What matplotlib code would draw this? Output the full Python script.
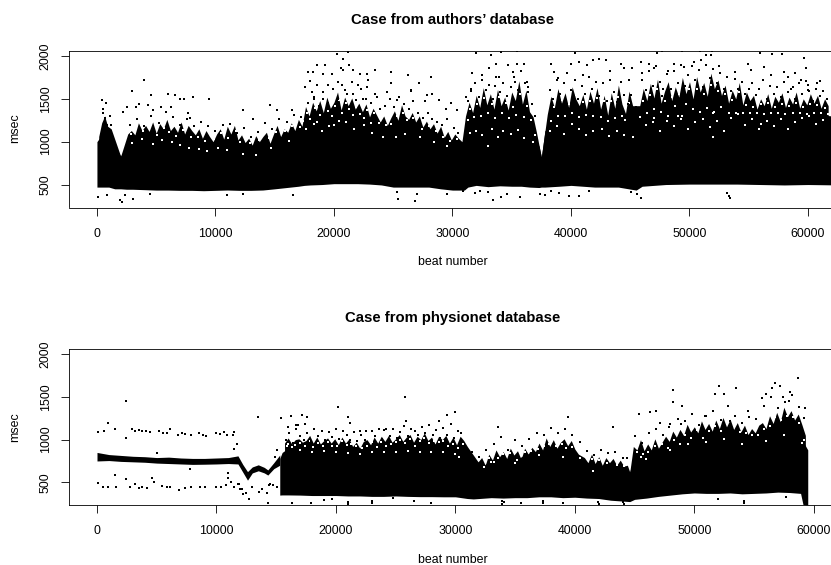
import matplotlib
matplotlib.use("Agg")
import matplotlib.pyplot as plt

# ---- top panel ----
top_beats = [0, 500, 1000, 1500, 2000, 2500, 3000, 4000, 5000, 6000, 7000, 8000, 9000, 10000, 11000, 12000,
             13000, 14000, 15000, 16000, 17000, 17500, 18000, 19000, 20000, 21000, 22000, 23000, 24000, 25000,
             26000, 27000, 28000, 29000, 30000, 31000, 31300, 32000, 33000, 34000, 35000, 35800, 36500, 37300,
             37500, 37800, 39000, 40000, 42000, 44000, 45500, 46000, 48000, 50000, 52000, 54000, 56000, 58000,
             60000, 62700]
top_upper = [1000, 1100, 1090, 950, 830, 950, 1000, 1050, 1030, 1050, 1000, 970, 950, 980, 950, 900,
             900, 950, 1000, 1050, 1080, 1200, 1200, 1250, 1280, 1280, 1250, 1130, 1080, 1100,
             1130, 1100, 1050, 1000, 980, 940, 1130, 1170, 1170, 1170, 1170, 1130, 1130, 950,
             820, 1130, 1200, 1250, 1170, 1170, 1130, 1250, 1290, 1290, 1290, 1370, 1290, 1290,
             1330, 1290]
top_lower = [470, 470, 470, 450, 450, 445, 445, 440, 435, 435, 432, 432, 428, 432, 436, 432,
             432, 436, 450, 465, 480, 490, 495, 500, 510, 510, 510, 505, 495, 470,
             470, 470, 470, 450, 435, 435, 470, 490, 475, 485, 480, 480, 470, 465,
             470, 470, 480, 490, 470, 470, 435, 480, 500, 505, 505, 505, 500, 495,
             500, 495]

top_spike_beats = [150, 400, 650, 900, 1200, 2000, 2600, 2900, 3200, 3500, 3800, 4100, 4400, 4700, 5000, 5300,
                   5600, 5900, 6200, 6500, 6800, 7100, 7400, 7700, 8000, 8300, 8600, 8900, 9200, 9500,
                   9800, 10100, 10400, 10700, 11000, 11300, 11600, 11900, 12200, 12500, 12800, 13100, 13400,
                   13700, 14000, 14300, 14600, 14900, 15200, 15500, 15800, 16100, 16400, 16700, 17000, 17300,
                   17600, 17900, 18200, 18500, 18800, 19100, 19400, 19700, 20000, 20300, 20600, 20900, 21200,
                   21500, 21800, 22100, 22400, 22700, 23000, 23300, 23600, 23900, 24200, 24500, 24800, 25100,
                   25400, 25700, 26000, 26300, 26600, 26900, 27200, 27500, 27800, 28100, 28400, 28700, 29000,
                   29300, 29600, 29900, 30200, 30500, 30800, 31100, 31400, 31700, 32000, 32300, 32600, 32900,
                   33200, 33500, 33800, 34100, 34400, 34700, 35000, 35300, 35600, 35900, 36200, 36500, 36800,
                   37100, 37500, 38000, 38300, 38600, 38900, 39200, 39500, 39800, 40100, 40400, 40700, 41000, 41300,
                   41600, 41900, 42200, 42500, 42800, 43100, 43400, 43700, 44000, 44300, 44600, 44900, 45200,
                   45800, 46100, 46400, 46700, 47000, 47300, 47600, 47900, 48200, 48500, 48800, 49100, 49400,
                   49700, 50000, 50300, 50600, 50900, 51200, 51500, 51800, 52100, 52400, 52700, 53000, 53300,
                   53600, 53900, 54200, 54500, 54800, 55100, 55400, 55700, 56000, 56300, 56600, 56900, 57200,
                   57500, 57800, 58100, 58400, 58700, 59000, 59300, 59600, 59900, 60200, 60500, 60800, 61100,
                   61400, 61700]
top_spike_tops = [1060, 1220, 1300, 1180, 1150, 830, 1090, 1130, 1080, 1220, 1130, 1190, 1120, 1230, 1100, 1210,
                  1150, 1260, 1130, 1180, 1110, 1230, 1090, 1190, 1130, 1080, 1150, 1040, 1130, 1060,
                  1000, 1090, 1150, 1030, 1180, 1090, 1190, 1020, 1080, 990, 1040, 960, 1070,
                  1000, 1060, 1110, 980, 1090, 1190, 1060, 1150, 1110, 1220, 1130, 1260, 1180,
                  1410, 1300, 1460, 1360, 1480, 1340, 1520, 1390, 1460, 1580, 1370, 1520, 1420,
                  1510, 1380, 1450, 1350, 1440, 1290, 1390, 1310, 1230, 1300, 1190, 1280, 1360,
                  1250, 1430, 1300, 1260, 1340, 1230, 1300, 1170, 1240, 1150, 1210, 1100, 1180,
                  1050, 1120, 1020, 1090, 1040, 1000, 1300, 1460, 1340, 1540, 1400, 1630, 1430,
                  1560, 1380, 1610, 1420, 1520, 1370, 1580, 1480, 1710, 1440, 1600, 1350, 1290,
                  1100, 820, 1320, 1530, 1400, 1620, 1450, 1570, 1400, 1640, 1500, 1420, 1550, 1380,
                  1590, 1450, 1630, 1380, 1540, 1310, 1570, 1390, 1660, 1440, 1330, 1590, 1420,
                  1420, 1620, 1480, 1680, 1510, 1730, 1450, 1590, 1700, 1480, 1640, 1520, 1750,
                  1560, 1700, 1500, 1760, 1580, 1690, 1530, 1800, 1620, 1720, 1540, 1660, 1450,
                  1600, 1500, 1690, 1430, 1580, 1480, 1540, 1380, 1500, 1420, 1560, 1390, 1530,
                  1460, 1570, 1400, 1520, 1440, 1580, 1390, 1500, 1430, 1560, 1450, 1540, 1390,
                  1500, 1420]

top_dot_beats = [394, 760, 478, 534, 703, 1097, 872, 1181, 3966, 2925, 4529, 6020, 6582, 7004, 7342, 8073,
                 9452, 2503, 2222, 3291, 3572, 4332, 5373, 6217, 5823, 4754, 7708, 7849, 12349, 14600,
                 15218, 16428, 13193, 17553, 18115, 17835, 18200, 18540, 19240, 19044, 19800, 20282, 20788,
                 21210, 21294, 20732, 21632, 22195, 22757, 23460, 22900, 24780, 24780, 26270, 26500, 19520,
                 20366, 22050, 22757, 24440, 25290, 20930, 21632, 18285, 19100, 20226, 22476, 23600,
                 112, 816, 2082, 1941, 2363, 3066, 4473, 10943, 12349, 16568, 25430, 26837, 26975, 25290,
                 28170, 27190, 26480, 27890, 29440, 30420, 31970, 33235, 34135, 35485, 35485, 36050, 34700,
                 33655, 33095, 31630, 38300, 38580, 40324, 39990, 40690, 41390, 41900, 42370, 42940, 44260,
                 45190, 44500, 47240, 47720, 49330, 50900, 51940, 45890, 46600, 48700, 50390, 51380, 51800,
                 55960, 57000, 57770, 59680, 59820, 54900, 56300, 57950, 58900, 60800, 59990, 32500, 33900,
                 35100, 36300, 38900, 41000, 43300, 44900, 46000, 47000, 48200, 49500, 51000, 52500, 53800,
                 55200, 56900, 58300, 59400, 61000, 28300, 28900, 29900, 31100, 31600, 33600, 35300, 36400,
                 27700, 31900, 32300, 33000, 34100, 34600, 37800, 39000, 40700, 41500, 45100, 45600, 45900,
                 53200, 53300, 53400, 33400, 35700, 37400, 38300, 39800, 29500, 30900, 60000, 58700]
top_dot_msec = [1484, 1453, 1387, 1329, 1282, 1297, 1192, 1192, 1718, 1589, 1542, 1554, 1542, 1496, 1496, 1523,
                1496, 1406, 1348, 1406, 1445, 1426, 1399, 1406, 1348, 1367, 1329, 1282, 1367, 1426,
                1367, 1375, 1270, 1640, 1581, 1815, 1815, 1893, 1893, 1795, 1795, 2021, 1970,
                2048, 1893, 1834, 1842, 1795, 1795, 1834, 1725, 1815, 1679, 1776, 1589, 1659,
                1698, 1659, 1640, 1581, 1484, 1600, 1562, 1503, 1503, 1484, 1503, 1523,
                356, 375, 298, 317, 375, 337, 395, 375, 395, 375, 337, 309, 395, 414,
                1756, 1686, 1600, 1542, 1387, 1367, 2029, 2009, 2048, 2060, 1912, 1912, 1893,
                1912, 1854, 1807, 1912, 1815, 2037, 1912, 1931, 1893, 1951, 1970, 1951, 1912,
                1854, 1854, 2037, 2060, 2060, 2060, 2060, 1931, 1912, 1912, 1931, 2009, 2009,
                2037, 2021, 2021, 1982, 1854, 1912, 1873, 1815, 1803, 1679, 1659, 1780, 1750,
                1810, 1700, 1740, 1780, 1830, 1720, 1800, 1860, 1830, 1870, 1950, 1880, 1810,
                1840, 1780, 1760, 1720, 1710, 1560, 1490, 1450, 1520, 1610, 1650, 1700, 1640,
                1470, 400, 420, 410, 350, 390, 380, 400, 370, 420, 410, 390, 340,
                400, 370, 340, 320, 350, 390, 420, 370, 385, 420, 1600, 1640]

top_fringe_beats = [17800, 18300, 18700, 19100, 19500, 19900, 20300, 20700, 21100, 21500,
                    21900, 22300, 22700, 23100, 23500, 23900, 24300, 24700, 25100, 25500,
                    25900, 26300, 26700, 27100, 27500, 27900, 28300, 28700, 29100, 29500,
                    2800, 3400, 4000, 4600, 5200, 5800, 6400, 7000, 7600, 8200,
                    8800, 9400, 10000, 10600, 11200, 11800, 12400, 13000, 13600, 14200,
                    14800, 15400, 16000, 16600, 17200, 30100, 30500, 31300, 31600, 31900,
                    32200, 32500, 32800, 33100, 33400, 33700, 34000, 34300, 34600, 34900,
                    35200, 35500, 35800, 36100, 36400, 36700, 37000, 38200, 38500, 38800,
                    39100, 39400, 39700, 40000, 40300, 40600, 40900, 41200, 41500, 41800,
                    42100, 42400, 42700, 43000, 43300, 43600, 43900, 44200, 44500, 44800,
                    45100, 45500, 46000, 46300, 46600, 46900, 47200, 47500, 47800, 48100,
                    48400, 48700, 49000, 49300, 49600, 49900, 50200, 50500, 50800, 51100,
                    51400, 51700, 52000, 52300, 52600, 52900, 53200, 53500, 53800, 54100,
                    54400, 54700, 55000, 55300, 55600, 55900, 56200, 56500, 56800, 57100,
                    57400, 57700, 58000, 58300, 58600, 58900, 59200, 59500, 59800, 60100,
                    60400, 60700, 61000, 61300, 61600, 18000, 18600, 20600, 46200, 47700]
top_fringe_msec = [1450, 1520, 1420, 1580, 1450, 1620, 1500, 1660, 1560, 1700,
                   1490, 1610, 1500, 1450, 1560, 1380, 1420, 1500, 1400, 1520,
                   1440, 1380, 1470, 1330, 1280, 1340, 1270, 1230, 1190, 1260,
                   1200, 1270, 1180, 1300, 1220, 1350, 1290, 1200, 1260, 1180,
                   1230, 1180, 1130, 1190, 1210, 1100, 1160, 1060, 1110, 1220,
                   1150, 1270, 1230, 1310, 1290, 1160, 1100, 1480, 1590, 1680,
                   1520, 1720, 1600, 1660, 1500, 1750, 1580, 1680, 1530, 1640,
                   1760, 1600, 1820, 1680, 1580, 1440, 1300, 1600, 1500, 1720,
                   1560, 1680, 1800, 1600, 1720, 1500, 1650, 1560, 1760, 1620,
                   1700, 1530, 1680, 1480, 1720, 1580, 1460, 1700, 1540, 1440,
                   1540, 1400, 1720, 1600, 1820, 1650, 1880, 1700, 1620, 1790,
                   1620, 1830, 1680, 1900, 1650, 1780, 1880, 1720, 1840, 1640,
                   1900, 1740, 1850, 1680, 1800, 1620, 1760, 1590, 1730, 1610,
                   1700, 1560, 1620, 1680, 1540, 1610, 1720, 1500, 1650, 1560,
                   1640, 1520, 1700, 1580, 1620, 1500, 1680, 1560, 1710, 1590,
                   1480, 1620, 1530, 1590, 1500, 1710, 1660, 1860, 1500, 1530]

# white specks where the cloud thins out
top_white_beats = [3000, 3800, 4700, 5500, 6300, 7000, 7800, 8600, 9300, 10200,
                   11000, 12300, 13400, 14700, 16200, 17600, 18300, 19000, 19600, 20400,
                   21000, 21700, 22500, 23200, 24100, 25200, 26000, 27300, 28400, 29500,
                   31500, 32000, 32500, 33300, 33800, 34300, 34900, 35500, 36000, 36800,
                   38200, 38800, 39400, 40100, 40700, 41300, 41900, 42600, 43200, 43900,
                   44500, 45200, 46300, 46900, 47500, 48100, 48700, 49300, 49900, 50500,
                   51100, 51700, 52300, 52900, 53500, 54100, 54700, 55300, 55900, 56500,
                   57100, 57700, 58300, 58900, 59500, 60100, 60700, 61300, 33000, 52000,
                   2900, 3300, 3900, 4300, 5100, 5700, 6100, 6700, 7300, 7900,
                   8500, 9100, 9900, 10500, 11100, 11700, 12100, 12900, 13700, 14500,
                   15100, 15900, 16500, 17100, 17400, 17700, 18000, 18400, 18800, 19200,
                   19500, 19800, 20100, 20400, 20700, 21000, 21300, 21600, 21900, 22200,
                   22500, 22800, 23100, 23400, 23800, 24400, 24800, 25300, 25800, 26200,
                   26700, 27400, 28000, 28600, 29200, 29800, 30400, 31300, 31500, 31800,
                   32100, 32400, 32700, 33000, 33300, 33600, 33900, 34200, 34500, 34800,
                   35100, 35400, 35700, 36000, 36300, 36600, 37000, 38300, 38600, 38900,
                   39200, 39500, 39800, 40100, 40400, 40700, 41000, 41300, 41600, 41900,
                   42200, 42500, 42800, 43100, 43400, 43700, 44000, 44300, 44600, 44900,
                   45800, 46100, 46400, 46700, 47000, 47300, 47600, 47900, 48200, 48500,
                   48800, 49100, 49400, 49700, 50000, 50300, 50600, 50900, 51200, 51500,
                   51800, 52100, 52400, 52700, 53000, 53300, 53600, 53900, 54200, 54500,
                   54800, 55100, 55400, 55700, 56000, 56300, 56600, 56900, 57200, 57500,
                   57800, 58100, 58400, 58700, 59000, 59300, 59600, 59900, 60200, 60500,
                   60800, 61100, 61400, 61700, 18600, 20000, 47000, 49000, 52000, 56000]
top_white_msec = [980, 1030, 970, 1020, 1000, 960, 930, 910, 890, 930,
                  900, 860, 850, 930, 1010, 1150, 1210, 1120, 1180, 1240,
                  1230, 1150, 1200, 1100, 1050, 1060, 1090, 1060, 1000, 950,
                  1100, 1130, 1080, 1150, 1060, 1120, 1090, 1140, 1040, 1000,
                  1130, 1180, 1090, 1210, 1150, 1080, 1130, 1150, 1070, 1120,
                  1080, 1050, 1190, 1230, 1130, 1240, 1180, 1260, 1150, 1230,
                  1270, 1170, 1240, 1130, 1280, 1320, 1200, 1260, 1150, 1240,
                  1180, 1270, 1150, 1230, 1280, 1300, 1210, 1250, 950, 1050,
                  1090, 1150, 1120, 1180, 1080, 1160, 1110, 1070, 1140, 1050,
                  1060, 1010, 1030, 1100, 1040, 1130, 1000, 980, 1020, 1040,
                  1110, 1130, 1180, 1170, 1240, 1340, 1270, 1390, 1310, 1440,
                  1360, 1300, 1420, 1490, 1340, 1450, 1380, 1310, 1400, 1320,
                  1280, 1370, 1220, 1340, 1220, 1190, 1210, 1300, 1340, 1250,
                  1280, 1150, 1180, 1120, 1060, 1010, 1030, 1250, 1380, 1290,
                  1440, 1300, 1510, 1340, 1440, 1280, 1520, 1330, 1450, 1280,
                  1410, 1310, 1560, 1290, 1420, 1250, 1080, 1240, 1410, 1300,
                  1490, 1300, 1440, 1330, 1550, 1290, 1460, 1310, 1480, 1300,
                  1510, 1290, 1470, 1240, 1470, 1280, 1520, 1300, 1250, 1450,
                  1290, 1480, 1330, 1550, 1380, 1620, 1350, 1480, 1300, 1520,
                  1420, 1560, 1300, 1440, 1610, 1380, 1620, 1350, 1560, 1390,
                  1660, 1350, 1590, 1400, 1560, 1330, 1490, 1340, 1580, 1330,
                  1430, 1340, 1410, 1330, 1440, 1320, 1450, 1330, 1410, 1340,
                  1440, 1320, 1420, 1340, 1450, 1330, 1410, 1320, 1440, 1340,
                  1430, 1330, 1390, 1320, 1230, 1190, 1280, 1300, 1330, 1210]

# ---- bottom panel ----
bot_line_beats = [0, 1000, 2000, 3000, 4000, 5000, 6000, 7000, 8000, 9000, 10000, 11000, 11800, 12200, 12600,
                  13000, 13500, 14000, 14300, 14800, 15300]
bot_line_lo = [750, 755, 745, 740, 735, 725, 720, 715, 710, 712, 715, 720, 715, 620, 525, 610, 635, 610, 585,
               660, 700]
bot_line_hi = [850, 825, 815, 805, 800, 790, 795, 785, 780, 780, 785, 790, 810, 710, 625, 680, 705, 675, 645,
               730, 820]

bot_beats = [15300, 15500, 16000, 17000, 18000, 19000, 20000, 21000, 22000, 23000, 24000, 25000, 26000, 27000,
             28000, 29000, 30000, 31000, 31500, 32000, 33000, 34000, 35000, 36000, 37000, 38000, 39000, 40000,
             40500, 41000, 42000, 43000, 44000, 44600, 45000, 46000, 47000, 48000, 49000, 50000, 51000, 52000,
             53000, 54000, 55000, 56000, 57000, 58000, 58900, 59100, 59500]
bot_upper = [780, 850, 900, 915, 905, 890, 900, 885, 865, 880, 870, 885, 890, 870,
             880, 870, 860, 840, 700, 650, 770, 750, 765, 830, 850, 830, 840, 800,
             720, 660, 660, 650, 640, 620, 830, 800, 840, 910, 970, 960, 990, 1030,
             1030, 980, 930, 1020, 1070, 1050, 1000, 980, 880]
bot_lower = [350, 352, 352, 350, 345, 345, 345, 340, 340, 335, 335, 340, 335, 332,
             332, 330, 330, 310, 305, 310, 320, 315, 320, 320, 330, 330, 320, 325,
             320, 315, 310, 290, 280, 274, 300, 315, 335, 350, 365, 375, 370, 370,
             375, 365, 370, 375, 385, 380, 370, 240, 234]

bot_spike_beats = [15700, 16000, 16300, 16600, 16900, 17200, 17500, 17800, 18100, 18400, 18700, 19000, 19300,
                   19600, 19900, 20200, 20500, 20800, 21100, 21400, 21700, 22000, 22300, 22600, 22900, 23200,
                   23500, 23800, 24100, 24400, 24700, 25000, 25300, 25600, 25900, 26200, 26500, 26800, 27100,
                   27400, 27700, 28000, 28300, 28600, 28900, 29200, 29500, 29800, 30100, 30400, 30700, 31000,
                   31900, 32200, 32500, 32800, 33100, 33400, 33700, 34000, 34300, 34600, 34900, 35200, 35500,
                   35800, 36100, 36400, 36700, 37000, 37300, 37600, 37900, 38200, 38500, 38800, 39100, 39400,
                   39700, 40000, 40300, 40800, 41100, 41400, 41700, 42000, 42300, 42600, 42900, 43200, 43500,
                   43800, 44100, 44400, 44600, 44900, 45200, 45500, 45800, 46100, 46400, 46700, 47000, 47300, 47600,
                   47900, 48200, 48500, 48800, 49100, 49400, 49700, 50000, 50300, 50600, 50900, 51200, 51500,
                   51800, 52100, 52400, 52700, 53000, 53300, 53600, 53900, 54200, 54500, 54800, 55100, 55400,
                   55700, 56000, 56300, 56600, 56900, 57200, 57500, 57800, 58100, 58400, 58700, 59000, 59300]
bot_spike_tops = [960, 1020, 950, 1000, 1010, 970, 990, 1050, 960, 1030, 950, 990, 1020,
                  960, 1010, 940, 1030, 960, 1010, 920, 970, 900, 980, 1000, 940, 1030,
                  960, 1040, 980, 1050, 970, 1010, 1060, 980, 1030, 1060, 970, 1040, 1000,
                  1080, 990, 1030, 950, 1040, 1000, 1050, 960, 1030, 940, 1040, 990, 920,
                  740, 790, 700, 830, 760, 880, 800, 860, 780, 900, 820, 870, 770,
                  900, 830, 910, 860, 960, 880, 1020, 920, 1000, 900, 970, 1010, 930,
                  990, 890, 830, 790, 730, 830, 720, 800, 700, 790, 730, 780, 700,
                  760, 690, 700, 620, 920, 880, 1000, 870, 950, 880, 1010, 900, 970, 1040,
                  980, 1100, 1030, 1120, 1050, 1180, 1090, 1150, 1080, 1220, 1120, 1190, 1100,
                  1230, 1130, 1260, 1150, 1240, 1120, 1200, 1090, 1170, 1060, 1130, 1080, 1170,
                  1200, 1130, 1280, 1190, 1320, 1210, 1380, 1270, 1340, 1230, 1300, 1180, 1050]

bot_dot_beats = [100, 600, 880, 1500, 2400, 2400, 2900, 3200, 3500, 3800, 4100, 4400, 5200, 5500, 5900, 6100,
                 6800, 7100, 7400, 7900, 8500, 8900, 9100, 10000, 10300, 10600, 10900, 11400, 11500, 13500,
                 15400, 16200, 16700, 17200, 17600, 16800, 17400,
                 100, 500, 900, 1500, 1600, 2400, 2800, 3200, 3500, 3800, 4200, 4600, 4800, 5400, 5900, 6100,
                 6900, 7400, 7900, 8600, 9000, 10000, 10400, 10800, 11000, 11200, 11500, 11800, 11900, 12200,
                 12500, 12700, 13000, 13600, 14200, 14500, 14400, 15100, 12000, 12100, 13000, 13800, 14700,
                 14900, 15100, 11000, 11000, 11500, 11700, 7800, 5000, 14340,
                 20200, 21000, 25800, 25900, 21200, 22500, 24000, 28600, 29300, 30000, 33600, 39400, 43200,
                 48200, 48200, 49000, 52100, 52500, 53500, 51700, 55700, 56000, 56800, 57200, 57400, 58700,
                 59300, 57900, 58000, 56500, 46800, 47100, 47900, 48900, 50900, 53000, 54500, 45400, 46300,
                 33900, 33900, 34100, 37300, 37300, 41900, 42000, 44000, 44100, 54200, 54200, 52000, 57700,
                 21000, 21000, 23000, 23000, 24800, 16300, 17900, 19000, 19700, 26500, 28000, 35500, 39000]
bot_dot_msec = [1090, 1100, 1190, 1130, 1450, 1020, 1130, 1100, 1110, 1100, 1100, 1090, 1100, 1080, 1075, 1130,
                1050, 1080, 1070, 1060, 1080, 1050, 1040, 1080, 1070, 1090, 1060, 1060, 1090, 1270,
                1250, 1280, 1170, 1290, 1270, 1170, 1180,
                490, 450, 440, 590, 440, 540, 450, 480, 430, 440, 430, 550, 500, 460, 440, 450,
                410, 430, 440, 440, 440, 450, 450, 470, 610, 500, 440, 480, 480, 360,
                380, 300, 440, 390, 370, 480, 470, 440, 420, 420, 450, 420, 470,
                800, 880, 610, 550, 890, 950, 660, 840, 262,
                1380, 1260, 1500, 1220, 1190, 1100, 1110, 1220, 1290, 1320, 1150, 1260, 1150,
                1580, 1440, 1390, 1630, 1530, 1600, 1540, 1490, 1530, 1660, 1630, 1500, 1720,
                1370, 1450, 1560, 1610, 1340, 1200, 1150, 1180, 1280, 1220, 1340, 1300, 1320,
                280, 250, 265, 260, 285, 275, 250, 265, 250, 280, 255, 300, 330,
                270, 250, 260, 280, 320, 260, 255, 295, 300, 280, 255, 260, 260]

bot_fringe_beats = [15800, 16100, 16400, 16700, 17000, 17300, 17600, 17900, 18200, 18500,
                    18800, 19100, 19400, 19700, 20000, 20300, 20600, 20900, 21200, 21500,
                    21800, 22100, 22400, 22700, 23000, 23300, 23600, 23900, 24200, 24500,
                    24800, 25100, 25400, 25700, 26000, 26300, 26600, 26900, 27200, 27500,
                    27800, 28100, 28400, 28700, 29000, 29300, 29600, 29900, 30200, 30500,
                    31400, 32000, 32600, 33200, 33800, 34400, 35000, 35600, 36200, 36800,
                    37400, 38000, 38600, 39200, 39800, 40400, 41000, 41600, 42200, 42800,
                    43400, 44000, 44400, 45000, 45600, 46200, 46800, 47400, 48000, 48600,
                    49200, 49800, 50400, 51000, 51600, 52200, 52800, 53400, 54000, 54600,
                    55200, 55800, 56400, 57000, 57600, 58200, 58800, 59200, 16000, 22000]
bot_fringe_msec = [1000, 1080, 960, 1120, 1040, 1000, 1080, 980, 1130, 1040,
                   1100, 1000, 1090, 1030, 1120, 1010, 1100, 1050, 1000, 1090,
                   980, 1050, 1000, 950, 1100, 1040, 1130, 1010, 1120, 1040,
                   1130, 1020, 1090, 1160, 1040, 1130, 1100, 1060, 1150, 1080,
                   1170, 1050, 1110, 1020, 1140, 1060, 1180, 1020, 1100, 1080,
                   850, 800, 880, 950, 1030, 880, 1000, 930, 1010, 1080,
                   1050, 1140, 1080, 1130, 1060, 970, 870, 820, 880, 840,
                   850, 790, 780, 1040, 960, 1080, 1120, 1050, 1180, 1240,
                   1220, 1300, 1170, 1280, 1340, 1230, 1390, 1280, 1200, 1270,
                   1240, 1400, 1500, 1370, 1440, 1520, 1380, 1250, 1150, 1100]

bot_white_beats = [17000, 18000, 19000, 20000, 21000, 22000, 23000, 24000, 25000, 26000,
                   27000, 28000, 29000, 30000, 33000, 35000, 37000, 39000, 46000, 48000,
                   49500, 51000, 52500, 54000, 56000, 57500, 59000, 30300, 41500, 45500,
                   16000, 16300, 16600, 17000, 17400, 17800, 18100, 18500, 18900, 19300,
                   19700, 20100, 20500, 20900, 21300, 21700, 22200, 22600, 23000, 23400,
                   23800, 24200, 24600, 25000, 25400, 25800, 26200, 26600, 27000, 27400,
                   27800, 28200, 28600, 29000, 29400, 29800, 30200, 30600, 32400, 32800,
                   33200, 33600, 34000, 34600, 35200, 35800, 36300, 36900, 37400, 37800,
                   38400, 38900, 39300, 39800, 40400, 41400, 42000, 42700, 43500, 44100,
                   45200, 45700, 46100, 46700, 47300, 47800, 48300, 48800, 49200, 49700,
                   50200, 50700, 51200, 51700, 52200, 52700, 53300, 53800, 54300, 54800,
                   55300, 55800, 56300, 56800, 57300, 57800, 58300, 58800, 15900, 59200]
bot_white_msec = [880, 860, 870, 850, 840, 830, 860, 850, 860, 870,
                  850, 860, 850, 830, 740, 730, 820, 800, 770, 880,
                  950, 970, 1010, 950, 990, 1050, 960, 800, 630, 800,
                  950, 910, 940, 960, 930, 990, 915, 965, 925, 970,
                  930, 920, 980, 940, 950, 930, 905, 925, 970, 915,
                  970, 930, 950, 975, 1000, 955, 1010, 930, 985, 1020,
                  960, 980, 970, 990, 920, 950, 900, 950, 680, 780,
                  740, 790, 830, 840, 760, 850, 870, 890, 930, 950,
                  930, 950, 900, 910, 780, 770, 760, 730, 700, 690,
                  860, 830, 860, 920, 950, 900, 1000, 950, 1050, 1020,
                  1110, 1020, 1100, 1160, 1100, 1180, 1190, 1090, 1080, 1060,
                  1060, 1130, 1160, 1260, 1230, 1280, 1260, 1190, 920, 1000]

y_ticks = [500, 1000, 1500, 2000]
top_x_ticks = [0, 10000, 20000, 30000, 40000, 50000, 60000]
bot_x_ticks = [0, 10000, 20000, 30000, 40000, 50000, 60000]
top_title = "Case from authors\u2019 database"
bot_title = "Case from physionet database"

plt.rcParams['font.family'] = ['Liberation Sans', 'DejaVu Sans']

W, H = 831, 565
fig = plt.figure(figsize=(W / 100, H / 100), dpi=100)


def make_axes(left, right, top, bottom):
    return fig.add_axes([left / W, 1 - bottom / H, (right - left) / W, (bottom - top) / H])


def style(ax, xticks, xlim, ylim):
    ax.set_xlim(*xlim)
    ax.set_ylim(*ylim)
    ax.set_xticks(xticks)
    ax.set_yticks(y_ticks)
    ax.tick_params(length=5.5, width=0.6, labelsize=8.9, color='k')
    ax.tick_params(axis='x', pad=9)
    ax.tick_params(axis='y', labelrotation=90, pad=6.5)
    for lab in ax.get_yticklabels():
        lab.set_va('center')
    for s in ax.spines.values():
        s.set_linewidth(0.6)


def draw_cloud(ax, beats, lower, upper, spike_beats, spike_base, spike_tops, white_b, white_m):
    ax.fill_between(beats, lower, upper, color='k', lw=0)
    ax.fill_between(spike_beats, spike_base, spike_tops, color='k', lw=0)
    ax.plot(white_b, white_m, 's', color='w', ms=1.5, mew=0)


# top panel
ax1 = make_axes(68.5, 840, 51, 207.5)
style(ax1, top_x_ticks, (-2400, 62700), (232, 2058))
draw_cloud(ax1, top_beats, top_lower, top_upper, top_spike_beats, 700, top_spike_tops,
           top_white_beats, top_white_msec)
ax1.plot(top_dot_beats, top_dot_msec, 's', color='k', ms=1.5, mew=0)
ax1.plot(top_fringe_beats, top_fringe_msec, 's', color='k', ms=1.5, mew=0)

# bottom panel
ax2 = make_axes(68.5, 840, 348.7, 505)
style(ax2, bot_x_ticks, (-2386, 62200), (234, 2066))
ax2.fill_between(bot_line_beats, bot_line_lo, bot_line_hi, color='k', lw=0)
draw_cloud(ax2, bot_beats, bot_lower, bot_upper, bot_spike_beats, 600, bot_spike_tops,
           bot_white_beats, bot_white_msec)
ax2.plot(bot_dot_beats, bot_dot_msec, 's', color='k', ms=1.5, mew=0)
ax2.plot(bot_fringe_beats, bot_fringe_msec, 's', color='k', ms=1.5, mew=0)

fig.text(452.5 / W, 1 - 20 / H, top_title, ha='center', va='center', fontsize=10.7, fontweight='bold')
fig.text(452.5 / W, 1 - 318 / H, bot_title, ha='center', va='center', fontsize=10.7, fontweight='bold')
fig.text(452.5 / W, 1 - 262 / H, "beat number", ha='center', va='center', fontsize=8.9)
fig.text(452.5 / W, 1 - 560 / H, "beat number", ha='center', va='center', fontsize=8.9)
fig.text(15 / W, 1 - 128 / H, "msec", ha='center', va='center', fontsize=8.9, rotation=90)
fig.text(15 / W, 1 - 427 / H, "msec", ha='center', va='center', fontsize=8.9, rotation=90)

fig.savefig('out.png', dpi=100)
